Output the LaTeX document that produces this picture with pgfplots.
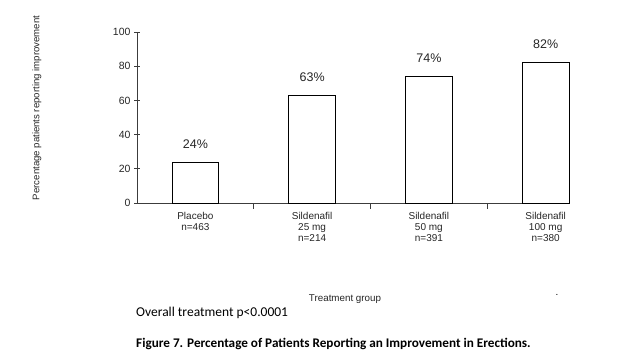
\documentclass[border=0pt]{standalone}
\usepackage{fontspec}
\setmainfont{Liberation Sans}
\newfontfamily\carlito{Carlito}
\usepackage{pgfplots}
\pgfplotsset{compat=1.18}
\definecolor{axgray}{RGB}{60,60,60}
\begin{document}
\begin{tikzpicture}[x=1pt,y=1pt]
\useasboundingbox (0,0) rectangle (636,361);
\begin{axis}[
  at={(137pt,158pt)}, anchor=south west,
  scale only axis, width=432pt, height=171pt,
  xmin=-0.5, xmax=3.2, ymin=0, ymax=100,
  axis lines=left, axis line style={axgray, line width=0.8pt, -},
  ytick={0,20,40,60,80,100},
  xtick={0,1,2,3},
  xticklabels={{Placebo\\n=463},{Sildenafil\\25 mg\\n=214},{Sildenafil\\50 mg\\n=391},{Sildenafil\\100 mg\\n=380}},
  x tick label style={align=center, font=\fontsize{10}{11}\selectfont, text=black!85},
  y tick label style={font=\fontsize{10.5}{11}\selectfont, text=black!85},
  major x tick style={draw=none},
  minor xtick={0.5,1.5,2.5},
  minor tick length=6pt,
  major tick length=6pt,
  tick align=center,
  tick style={axgray, line width=0.6pt},
  /pgf/number format/assume math mode=true,
  xticklabel shift=0pt,
  ybar, bar width=0.4,
  nodes near coords={\pgfmathprintnumber{\pgfplotspointmeta}\%},
  every node near coord/.append style={font=\fontsize{12.5}{13}\selectfont, text=black!85, yshift=10pt},
  clip=false,
]
\addplot[draw=black, fill=white, line width=0.8pt] coordinates {(0,24) (1,63) (2,74) (3,82)};
\end{axis}
\node[rotate=90, font=\fontsize{9.6}{10}\selectfont, text=black!85] at (37,253) {Percentage patients reporting improvement};
\node[font=\fontsize{9.8}{10}\selectfont, text=black!85] at (345,62) {Treatment group};
\node[font=\fontsize{9.8}{10}\selectfont] at (557,66) {.};
\node[anchor=west, inner sep=0pt, font=\carlito\fontsize{13.5}{14}\selectfont] at (136,48) {Overall treatment p<0.0001};
\node[anchor=west, inner sep=0pt, font=\carlito\bfseries\fontsize{13.2}{14}\selectfont] at (136,17) {Figure 7. Percentage of Patients Reporting an Improvement in Erections.};
\end{tikzpicture}
\end{document}
